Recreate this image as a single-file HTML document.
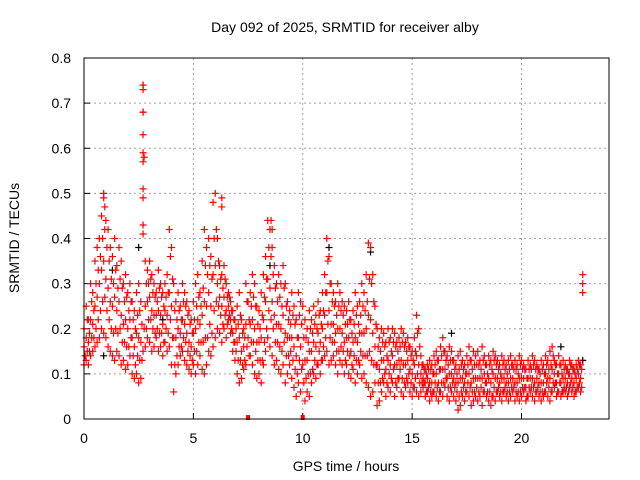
<!DOCTYPE html>
<html><head><meta charset="utf-8"><style>
body{margin:0;background:#fff;}
svg{display:block;font-family:"Liberation Sans",sans-serif;}
</style></head><body>
<svg id="chart" width="640" height="480">
<text x="345" y="32" text-anchor="middle" font-size="14">Day 092 of 2025, SRMTID for receiver alby</text>
<text x="346" y="471" text-anchor="middle" font-size="14">GPS time / hours</text>
<text transform="translate(19,238) rotate(-90)" text-anchor="middle" font-size="14">SRMTID / TECUs</text>
<g id="grid"></g><g id="ticks"></g><g id="marks"></g>
<rect x="84" y="58" width="525" height="361" fill="none" stroke="#000" stroke-width="1"/>
</svg>
<script>
const xTicks=[0,5,10,15,20];
const yTicks=[0,0.1,0.2,0.3,0.4,0.5,0.6,0.7,0.8];
const yTickLabels=["0","0.1","0.2","0.3","0.4","0.5","0.6","0.7","0.8"];
const step=0.1;
const hiVals=[.20,.25,.22,.30,.28,.35,.38,.40,.45,.50,
.44,.42,.38,.36,.40,.34,.38,.35,.30,.32,
.28,.30,.26,.24,.28,.30,.26,.74,.35,.33,
.35,.32,.30,.28,.33,.30,.28,.30,.32,.42,
.38,.30,.26,.28,.25,.30,.28,.26,.24,.22,
.26,.30,.32,.28,.35,.42,.38,.40,.36,.48,
.50,.40,.34,.32,.34,.30,.28,.26,.24,.22,
.25,.28,.22,.20,.30,.26,.28,.32,.30,.25,
.24,.28,.32,.36,.44,.42,.38,.34,.30,.32,
.30,.34,.30,.26,.24,.28,.25,.22,.28,.26,
.25,.22,.20,.24,.22,.25,.23,.26,.24,.28,
.32,.40,.36,.30,.28,.26,.30,.28,.26,.25,
.24,.26,.22,.24,.28,.25,.26,.30,.28,.32,
.39,.38,.32,.25,.20,.18,.20,.19,.17,.20,
.18,.20,.19,.17,.18,.20,.19,.17,.18,.16,
.15,.18,.23,.20,.14,.12,.11,.12,.13,.12,
.14,.15,.13,.16,.18,.15,.14,.16,.15,.13,
.12,.14,.15,.13,.12,.14,.16,.13,.15,.14,
.15,.13,.16,.14,.12,.14,.13,.15,.14,.13,
.12,.14,.13,.12,.13,.14,.12,.13,.12,.14,
.13,.12,.11,.13,.12,.14,.13,.12,.11,.13,
.12,.14,.13,.15,.16,.13,.12,.14,.12,.13,
.12,.11,.13,.12,.11,.12,.13,.12,.32];
const midVals=[.16,.18,.17,.22,.21,.25,.27,.30,.33,.35,
.31,.29,.26,.25,.27,.24,.26,.23,.21,.22,
.20,.22,.18,.16,.19,.18,.17,.68,.25,.26,
.27,.24,.23,.23,.24,.23,.21,.24,.23,.28,
.25,.18,.18,.20,.19,.22,.21,.19,.17,.16,
.19,.20,.22,.21,.23,.26,.25,.28,.25,.32,
.34,.30,.27,.25,.27,.24,.25,.22,.19,.17,
.17,.18,.15,.16,.21,.18,.21,.22,.20,.17,
.17,.18,.22,.26,.31,.29,.26,.23,.21,.21,
.20,.23,.19,.18,.18,.18,.16,.14,.18,.16,
.12,.13,.13,.15,.15,.17,.16,.19,.17,.20,
.23,.28,.24,.21,.21,.19,.20,.20,.19,.17,
.18,.18,.15,.17,.18,.17,.19,.19,.19,.20,
.23,.22,.19,.16,.12,.11,.13,.13,.11,.13,
.12,.14,.12,.12,.13,.13,.12,.12,.13,.11,
.10,.12,.14,.12,.10,.09,.08,.09,.08,.08,
.10,.10,.08,.11,.11,.11,.09,.10,.10,.09,
.08,.08,.09,.09,.08,.10,.10,.08,.09,.09,
.09,.09,.09,.10,.08,.09,.08,.10,.09,.09,
.08,.09,.09,.08,.08,.09,.09,.08,.08,.09,
.09,.09,.07,.09,.09,.09,.08,.09,.08,.08,
.08,.10,.09,.09,.11,.10,.08,.10,.08,.09,
.09,.08,.10,.09,.08,.09,.10,.09,.30];
const loVals=[.12,.13,.12,.14,.15,.16,.17,.18,.20,.19,
.18,.16,.15,.14,.13,.15,.14,.12,.13,.11,
.12,.14,.10,.09,.10,.08,.09,.15,.16,.18,
.17,.15,.16,.18,.15,.16,.14,.17,.15,.16,
.12,.06,.10,.12,.14,.15,.13,.12,.11,.10,
.12,.10,.12,.14,.11,.10,.12,.15,.14,.16,
.18,.20,.19,.17,.20,.18,.22,.19,.15,.13,
.10,.08,.09,.11,.12,.00,.14,.12,.10,.09,
.10,.08,.12,.15,.18,.16,.14,.12,.13,.11,
.10,.12,.08,.10,.12,.09,.07,.05,.08,.06,
.00,.04,.06,.05,.08,.10,.09,.12,.10,.13,
.14,.15,.12,.13,.14,.12,.10,.13,.12,.10,
.12,.10,.09,.11,.08,.10,.12,.09,.10,.08,
.07,.05,.06,.08,.03,.04,.06,.08,.05,.07,
.06,.08,.05,.07,.09,.06,.05,.07,.08,.06,
.05,.07,.06,.05,.06,.07,.05,.06,.04,.05,
.06,.05,.04,.06,.05,.07,.05,.04,.06,.05,
.04,.02,.03,.05,.04,.06,.05,.03,.04,.05,
.04,.05,.03,.06,.05,.04,.03,.05,.04,.06,
.05,.04,.06,.05,.04,.05,.06,.04,.05,.04,
.05,.06,.04,.05,.06,.05,.04,.06,.05,.04,
.05,.06,.05,.04,.06,.07,.05,.06,.05,.06,
.06,.05,.07,.06,.05,.06,.07,.06,.28];
const upperMidVals=[.14,.22,.19,.26,.24,.30,.33,.36,.40,.42,
.38,.35,.31,.30,.33,.29,.31,.29,.26,.27,
.24,.26,.22,.20,.23,.24,.21,.58,.30,.30,
.31,.28,.27,.26,.29,.27,.25,.27,.28,.36,
.31,.24,.22,.24,.22,.26,.25,.23,.21,.19,
.22,.25,.27,.25,.29,.34,.32,.34,.31,.40,
.42,.35,.31,.29,.31,.27,.27,.24,.22,.20,
.21,.23,.19,.18,.26,.22,.25,.27,.25,.21,
.20,.23,.27,.31,.38,.36,.32,.29,.26,.27,
.25,.29,.25,.22,.21,.23,.21,.18,.23,.21,
.18,.18,.17,.20,.19,.21,.20,.23,.21,.24,
.28,.35,.30,.26,.25,.23,.25,.24,.23,.21,
.21,.22,.19,.21,.23,.21,.23,.25,.24,.26,
.31,.30,.26,.21,.16,.15,.17,.16,.14,.17,
.15,.17,.16,.15,.16,.17,.16,.15,.16,.14,
.13,.15,.19,.16,.12,.11,.10,.11,.11,.10,
.12,.13,.11,.14,.15,.13,.12,.13,.13,.11,
.10,.11,.12,.11,.10,.12,.13,.11,.12,.12,
.12,.11,.13,.12,.10,.12,.11,.13,.12,.11,
.10,.12,.11,.10,.11,.12,.11,.11,.10,.12,
.11,.11,.09,.11,.11,.12,.11,.11,.10,.11,
.10,.12,.11,.12,.14,.12,.10,.12,.10,.11,
.11,.10,.12,.11,.10,.11,.12,.11];
const lowerMidVals=[.14,.15,.15,.18,.18,.20,.22,.24,.26,.27,
.24,.22,.20,.19,.20,.19,.20,.17,.17,.16,
.16,.18,.14,.12,.14,.13,.13,.20,.20,.22,
.22,.20,.19,.20,.19,.19,.17,.20,.19,.22,
.18,.12,.14,.16,.16,.18,.17,.15,.14,.13,
.15,.15,.17,.17,.17,.18,.18,.21,.19,.24,
.26,.25,.23,.21,.23,.21,.23,.20,.17,.15,
.13,.13,.12,.13,.16,.14,.17,.17,.15,.13,
.13,.13,.17,.20,.24,.22,.20,.17,.17,.16,
.15,.17,.14,.14,.15,.13,.11,.10,.13,.11,
.08,.09,.10,.10,.11,.13,.12,.15,.13,.16,
.18,.21,.18,.17,.17,.15,.15,.16,.15,.13,
.15,.14,.12,.14,.13,.13,.15,.14,.14,.14,
.15,.13,.12,.12,.08,.08,.09,.10,.08,.10,
.09,.11,.08,.09,.11,.09,.08,.09,.10,.08,
.07,.09,.10,.08,.08,.08,.06,.07,.06,.06,
.08,.07,.06,.08,.08,.09,.07,.07,.08,.07,
.06,.05,.06,.07,.06,.08,.07,.06,.06,.07,
.06,.07,.06,.08,.06,.06,.05,.07,.06,.07,
.06,.06,.07,.06,.06,.07,.07,.06,.06,.06,
.07,.07,.05,.07,.07,.07,.06,.07,.06,.06,
.06,.08,.07,.06,.08,.08,.06,.08,.06,.07,
.07,.06,.08,.07,.06,.07,.08,.07];
const spikeTimes=[2.7,2.7,2.7,2.7,2.7,2.7,2.7,2.7,2.7,2.7,0.9,0.95,6.3,6.3,8.55,8.6];
const spikeVals=[.74,.73,.68,.63,.59,.57,.51,.49,.43,.41,.49,.47,.49,.47,.44,.42];
const blackTimes=[0.9,2.5,8.5,11.2,16.8,21.8,22.8,3.6,1.3,13.1];
const blackVals=[.14,.38,.34,.38,.19,.16,.13,.22,.33,.37];
const X0=84,X1=609,Y0=419,Y1=58,XMAX=24,YMAX=0.8;
const sx=t=>X0+t/XMAX*(X1-X0);
const sy=v=>Y0-v/YMAX*(Y0-Y1);
const NS="http://www.w3.org/2000/svg";
const grid=document.getElementById('grid'),ticks=document.getElementById('ticks'),marks=document.getElementById('marks');
function mk(tag,attrs,parent){const e=document.createElementNS(NS,tag);for(const k in attrs)e.setAttribute(k,attrs[k]);parent.appendChild(e);return e;}
xTicks.forEach(t=>{
 const x=sx(t);
 if(t>0){const g=mk('line',{x1:x,x2:x,y1:Y1,y2:Y0,stroke:'#a0a0a0','stroke-dasharray':'2,3'},grid);
 
 }
 const tk=mk('line',{x1:x,x2:x,y1:Y0,y2:Y0-6,stroke:'#000'},ticks);
 
 
 const lb=mk('text',{x:x,y:443,'text-anchor':'middle','font-size':14},ticks);lb.textContent=String(t);
 
 
});
yTicks.forEach((v,i)=>{
 const y=sy(v);
 if(v>0&&v<0.8){const g=mk('line',{x1:X0,x2:X1,y1:y,y2:y,stroke:'#a0a0a0','stroke-dasharray':'2,3'},grid);
 
 }
 const tk=mk('line',{x1:X0,x2:X0+6,y1:y,y2:y,stroke:'#000'},ticks);
 
 
 const lb=mk('text',{x:71,y:y+5,'text-anchor':'end','font-size':14},ticks);lb.textContent=yTickLabels[i];
 
 
});
function plus(t,v,color,name){
 const x=sx(t),y=sy(v);
 const p=mk('path',{d:`M${x-3.5},${y}h7M${x},${y-3.5}v7`,stroke:color,'stroke-width':1.2,fill:'none'},marks);
 
 
}
blackTimes.forEach((t,i)=>plus(t,blackVals[i],'#000','black-point'));
[loVals,midVals,hiVals].forEach(arr=>arr.forEach((v,i)=>{
 const t=i*step;
 if(v===0){const r=mk('rect',{x:sx(t)-2,y:sy(0)-4,width:4,height:5,fill:'#f00'},marks);
 
 }
 else plus(t,v,'#f00','srmtid-point');
}));
[upperMidVals,lowerMidVals].forEach(arr=>arr.forEach((v,i)=>plus(i*step+step/2,v,'#f00','srmtid-point')));
spikeTimes.forEach((t,i)=>plus(t,spikeVals[i],'#f00','srmtid-spike-point'));
</script>
</body></html>
